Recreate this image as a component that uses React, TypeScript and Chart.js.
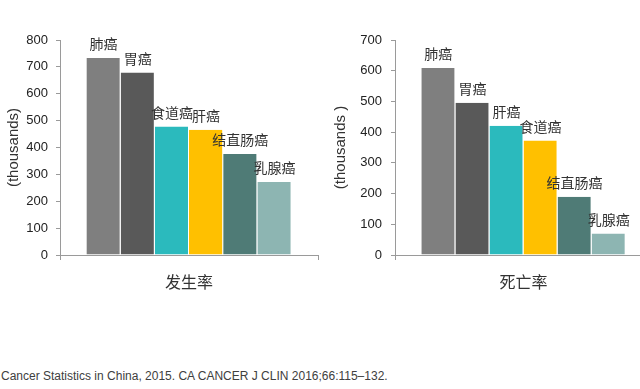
import React, { useEffect, useRef } from "react";
import { Chart, registerables } from "chart.js";

Chart.register(...registerables);

const cancerTypesIncidence = ["肺癌", "胃癌", "食道癌", "肝癌", "结直肠癌", "乳腺癌"];
const incidenceValues = [733, 679, 478, 466, 376, 272];
const cancerTypesMortality = ["肺癌", "胃癌", "肝癌", "食道癌", "结直肠癌", "乳腺癌"];
const mortalityValues = [609, 496, 421, 373, 190, 70];
const incidenceCategory = ["发生率"];
const mortalityCategory = ["死亡率"];
const barColors = ["#7F7F7F", "#595959", "#2BBABD", "#FFC000", "#4F7B76", "#8DB5B2"];
const footerText = "Cancer Statistics in China, 2015. CA CANCER J CLIN 2016;66:115–132.";

const labelPlugin = {
  id: "barNameLabels",
  afterDatasetsDraw(chart: any) {
    const ctx = chart.ctx;
    ctx.save();
    ctx.font = '14px "Noto Sans CJK SC", sans-serif';
    ctx.fillStyle = "#333333";
    ctx.textAlign = "center";
    ctx.textBaseline = "middle";
    chart.data.datasets.forEach((ds: any, i: number) => {
      const meta = chart.getDatasetMeta(i);
      meta.data.forEach((bar: any) => {
        ctx.fillText(ds.label, bar.x, bar.y - 14);
      });
    });
    ctx.restore();
  },
};

function makeConfig(
  category: string[],
  names: string[],
  values: number[],
  yMax: number,
  yWidth: number,
  tickPad: number,
  titleText: string,
  titlePad: number,
  padRight: number
): any {
  return {
    type: "bar",
    data: {
      labels: category,
      datasets: names.map((n, i) => ({
        label: n,
        data: [values[i]],
        backgroundColor: barColors[i],
        borderColor: "#ffffff",
        borderWidth: { left: 0, right: 1, top: 0, bottom: 0 },
        borderSkipped: false,
        categoryPercentage: 0.795,
        barPercentage: 1.0,
      })),
    },
    options: {
      animation: false,
      responsive: false,
      maintainAspectRatio: false,
      layout: { padding: { top: 40, right: padRight, left: 0, bottom: 0 } },
      plugins: { legend: { display: false }, tooltip: { enabled: false } },
      scales: {
        x: {
          offset: true,
          grid: {
            display: true,
            offset: true,
            drawOnChartArea: false,
            drawTicks: true,
            tickLength: 5,
            color: "#9a9a9a",
          },
          border: { display: true, color: "#9a9a9a", width: 1 },
          ticks: {
            font: { family: '"Noto Sans CJK SC", sans-serif', size: 16 },
            color: "#333333",
            padding: 12,
          },
          afterFit: (s: any) => {
            s.height = 45;
          },
        },
        y: {
          min: 0,
          max: yMax,
          ticks: {
            stepSize: 100,
            font: { family: '"Liberation Sans", Arial, sans-serif', size: 13 },
            color: "#222222",
            padding: tickPad,
          },
          grid: {
            display: true,
            drawOnChartArea: false,
            drawTicks: true,
            tickLength: 4,
            color: "#9a9a9a",
          },
          border: { display: true, color: "#9a9a9a", width: 1 },
          title: {
            display: true,
            text: titleText,
            font: { family: '"Liberation Sans", Arial, sans-serif', size: 15 },
            color: "#333333",
            padding: { top: titlePad, bottom: 0 },
          },
          afterFit: (s: any) => {
            s.width = yWidth;
          },
        },
      },
    },
    plugins: [labelPlugin],
  };
}

function BarChart(props: { config: any; width: number; height: number; style: any }) {
  const ref = useRef<HTMLCanvasElement | null>(null);
  useEffect(() => {
    if (!ref.current) return;
    const chart = new Chart(ref.current, props.config);
    return () => chart.destroy();
  }, []);
  return (
    <canvas
      ref={ref}
      width={props.width}
      height={props.height}
      style={{ position: "absolute", width: props.width, height: props.height, ...props.style }}
    />
  );
}

export default function App() {
  useEffect(() => {
    document.body.style.margin = "0";
  }, []);
  const leftConfig = makeConfig(
    incidenceCategory,
    cancerTypesIncidence,
    incidenceValues,
    800,
    60,
    8,
    "(thousands)",
    5,
    12
  );
  const rightConfig = makeConfig(
    mortalityCategory,
    cancerTypesMortality,
    mortalityValues,
    700,
    65,
    9,
    "(thousands )",
    2,
    18
  );
  return (
    <div
      style={{
        position: "relative",
        width: 640,
        height: 389,
        overflow: "hidden",
        background: "#ffffff",
      }}
    >
      <BarChart config={leftConfig} width={330} height={300} style={{ left: 0, top: 0 }} />
      <BarChart config={rightConfig} width={340} height={300} style={{ left: 330, top: 0 }} />
      <div
        style={{
          position: "absolute",
          left: 1,
          top: 368,
          fontFamily: '"Liberation Sans", Arial, sans-serif',
          fontSize: 12,
          color: "#404040",
          whiteSpace: "nowrap",
          lineHeight: "16px",
        }}
      >
        {footerText}
      </div>
    </div>
  );
}
